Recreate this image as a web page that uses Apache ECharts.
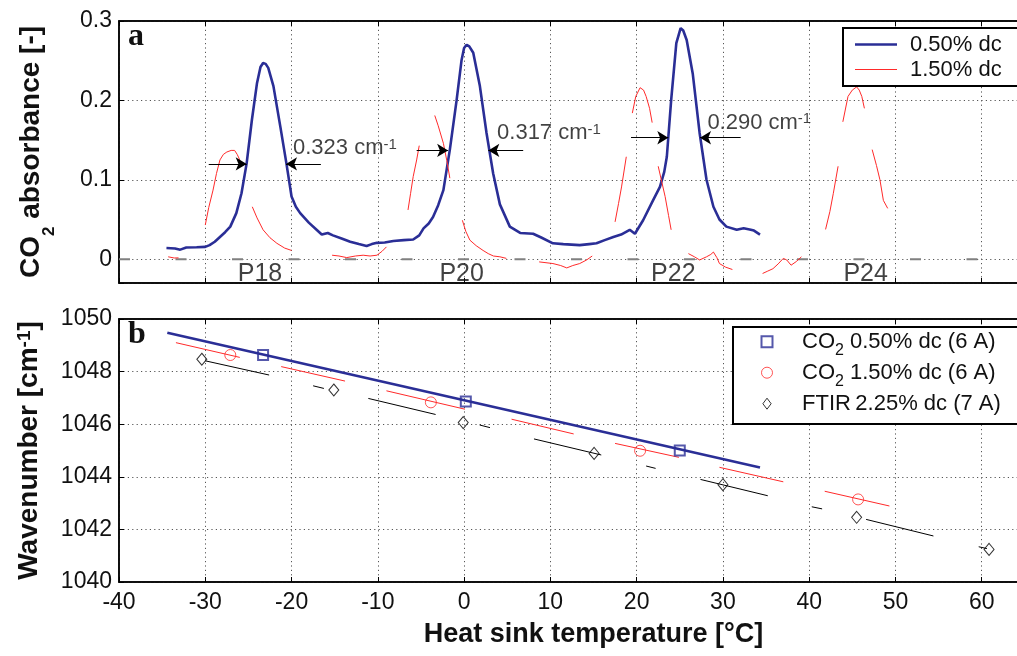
<!DOCTYPE html>
<html><head><meta charset="utf-8">
<script src="https://cdn.jsdelivr.net/npm/echarts@6/dist/echarts.min.js"></script>
<style>html,body{margin:0;padding:0;background:#fff}#c{width:1017px;height:656px}</style>
</head><body><div id="c"></div>
<script>
// ---------- data ----------
const xTickRange = [-40, 70];
const absorbRange = [-0.03, 0.3];
const waveRange = [1040, 1050];

// panel a: 0.50% dc absorbance trace [T, absorbance]
const blueCurveA = [[-34.5,0.014],[-33.5,0.0135],[-32.9,0.012],[-32.2,0.0148],[-31,0.015],[-30,0.0155],[-29.5,0.0177],[-28.9,0.022],[-28.3,0.028],[-27.7,0.034],[-27.1,0.041],[-26.4,0.058],[-25.8,0.083],[-25.2,0.121],[-24.6,0.175],[-24.0,0.222],[-23.6,0.242],[-23.3,0.247],[-23.0,0.246],[-22.7,0.241],[-22.1,0.218],[-21.3,0.167],[-20.6,0.121],[-20.0,0.079],[-19.5,0.066],[-19.0,0.058],[-18.0,0.046],[-17.1,0.037],[-16.5,0.031],[-15.8,0.033],[-15.2,0.030],[-14.2,0.026],[-13.2,0.022],[-12.2,0.019],[-11.3,0.0165],[-10.7,0.019],[-10.1,0.0206],[-9.2,0.021],[-8.2,0.023],[-7.0,0.024],[-5.9,0.0248],[-5.2,0.030],[-4.7,0.0388],[-4.1,0.045],[-3.6,0.053],[-3.0,0.068],[-2.4,0.087],[-1.65,0.138],[-0.87,0.20],[-0.29,0.251],[0.0,0.266],[0.29,0.270],[0.6,0.268],[1.06,0.260],[1.83,0.218],[2.6,0.159],[3.37,0.108],[4.15,0.069],[5.3,0.041],[6.5,0.033],[8.0,0.032],[9.0,0.027],[10.3,0.020],[11.5,0.019],[13.4,0.0177],[14.5,0.019],[15.35,0.020],[16.3,0.024],[17.3,0.028],[18.2,0.031],[19.2,0.037],[19.8,0.032],[20.75,0.049],[21.9,0.074],[22.7,0.091],[23.2,0.110],[23.5,0.129],[24.0,0.20],[24.6,0.272],[25.1,0.291],[25.4,0.288],[25.8,0.276],[26.5,0.234],[27.3,0.159],[28.1,0.10],[28.9,0.066],[29.6,0.050],[30.4,0.041],[31.6,0.037],[32.4,0.039],[33.1,0.0375],[33.6,0.036],[34.3,0.031]];

// panel a: 1.50% dc trace pieces [T, absorbance]
const redSegmentsA = [
 [[-34.3,0.003],[-33.6,0.0015],[-33.1,0.0017]],
 [[-30.0,0.043],[-29.6,0.065],[-29.1,0.087],[-28.7,0.108],[-28.3,0.125],[-27.9,0.132],[-27.5,0.135],[-27.0,0.137],[-26.6,0.137],[-26.3,0.132],[-26.0,0.125]],
 [[-24.55,0.066],[-24.0,0.052],[-23.3,0.037],[-22.5,0.027],[-21.7,0.020],[-20.8,0.014],[-20.0,0.011]],
 [[-15.3,0.005],[-14.5,0.004],[-13.6,0.002],[-12.6,0.004],[-11.7,0.005],[-10.9,0.004],[-10.1,0.005],[-9.5,0.010],[-9.0,0.0155]],
 [[-6.5,0.062],[-6.2,0.083],[-5.9,0.104],[-5.5,0.125],[-5.2,0.143]],
 [[-3.4,0.181],[-3.0,0.168],[-2.4,0.146],[-2.0,0.124],[-1.65,0.102]],
 [[-0.2,0.049],[0.2,0.035],[0.67,0.024],[1.4,0.017],[2.2,0.011],[2.8,0.007],[3.4,0.004],[4.15,0.003],[4.9,0.001]],
 [[8.7,-0.0034],[10.3,-0.0055],[11.2,-0.008],[11.9,-0.011],[12.6,-0.008],[13.4,-0.0055],[14.2,-0.001],[14.85,0.004]],
 [[17.5,0.047],[17.9,0.07],[18.25,0.091],[18.8,0.129]],
 [[19.5,0.184],[19.9,0.205],[20.4,0.216],[20.8,0.213],[21.1,0.205],[21.5,0.19],[21.8,0.172]],
 [[22.5,0.117],[22.9,0.098],[23.3,0.079],[23.7,0.055],[24.0,0.037]],
 [[26.0,0.007],[26.7,0.003],[27.3,-0.001],[28.1,0.003],[28.6,0.006],[28.9,0.009],[29.3,0.002],[29.6,-0.0055],[30.3,-0.01],[31.1,-0.013]],
 [[34.6,-0.018],[35.2,-0.015],[35.8,-0.012],[36.4,-0.006],[37.0,0.001],[37.4,-0.001],[37.9,-0.0076],[38.5,-0.003],[39.1,0.003]],
 [[41.9,0.0375],[42.4,0.06],[42.8,0.083],[43.35,0.117]],
 [[43.9,0.173],[44.5,0.205],[45.0,0.213],[45.5,0.217],[45.8,0.213],[46.1,0.205],[46.4,0.19]],
 [[47.3,0.138],[47.8,0.118],[48.2,0.10],[48.6,0.074],[49.1,0.064]]
];

const zeroLineA = [[-40,0],[70,0]];

// FWHM arrows [from, to(arrow head)]
const fwhmArrows = [
 [[-29.6,0.12],[-25.2,0.12]], [[-16.6,0.12],[-20.64,0.12]],
 [[-5.5,0.137],[-1.85,0.137]], [[6.85,0.137],[2.81,0.137]],
 [[19.35,0.153],[23.67,0.153]], [[32.06,0.153],[27.35,0.153]]
];
const fwhmLabels = [['0.323',-19.83,0.140],['0.317',3.82,0.159],['0.290',28.2,0.172]];
const peakLabels = [['P18',-23.66,-0.0185],['P20',-0.28,-0.0185],['P22',24.25,-0.0185],['P24',46.55,-0.0185]];

// panel b [T, wavenumber]
const blueFitB = [[-34.4,1049.48],[34.3,1044.35]];
const blueSquaresB = [[-23.3,1048.63],[0.2,1046.86],[25.0,1045.0]];
const redCirclesB = [[-27.1,1048.63],[-3.85,1046.83],[20.4,1044.99],[45.67,1043.14]];
const redSegmentsB = [
 [[-33.4,1049.1],[-26.0,1048.54]], [[-21.2,1048.19],[-13.8,1047.64]], [[-9.0,1047.27],[0.1,1046.57]],
 [[5.5,1046.19],[12.7,1045.63]], [[17.5,1045.27],[24.9,1044.74]], [[29.6,1044.36],[37.0,1043.81]],
 [[41.8,1043.45],[49.3,1042.89]]
];
const ftirDiamondsB = [[-30.4,1048.47],[-15.1,1047.30],[-0.1,1046.06],[15.07,1044.89],[30,1043.70],[45.5,1042.46],[60.85,1041.24]];
const ftirSegmentsB = [
 [[-30.0,1048.41],[-22.6,1047.87]], [[-17.5,1047.46],[-16.25,1047.36]], [[-11.1,1046.98],[-3.3,1046.37]],
 [[1.8,1045.97],[3.0,1045.87]], [[8.1,1045.44],[15.9,1044.83]], [[21.1,1044.41],[22.2,1044.32]],
 [[27.4,1043.90],[35.2,1043.28]], [[40.3,1042.86],[41.5,1042.78]], [[46.6,1042.38],[54.4,1041.75]],
 [[59.65,1041.34],[60.6,1041.27]]
];

const seriesNamesA = ['0.50% dc','1.50% dc'];
const seriesNamesB = ['CO2 0.50% dc (6 A)','CO2 1.50% dc (6 A)','FTIR 2.25% dc (7 A)'];

// ---------- styling ----------
const FONT = '"Liberation Sans", Arial, Helvetica, sans-serif';
const BLUE = '#2a2e96';
const RED = '#ff2a2a';
const TXT = '#111';

function joinSegments(segs){
  const out = [];
  segs.forEach((s,i)=>{ if(i) out.push(['-','-']); s.forEach(p=>out.push(p)); });
  return out;
}

const chart = echarts.init(document.getElementById('c'), null, {renderer:'canvas'});

const baseX = (grid, labels) => ({
  type:'value', gridIndex:grid, min:xTickRange[0], max:xTickRange[1], interval:10,
  axisLine:{show:true, onZero:false, lineStyle:{color:'#000', width:1.5}},
  axisTick:{show:true, inside:true, length:5, lineStyle:{color:'#000'}},
  axisLabel:{show:labels, fontFamily:FONT, fontSize:23, color:TXT, margin:9, formatter:v => String(v)},
  splitLine:{show:true, lineStyle:{color:'#555', width:1, type:[1.2,3.2]}}
});
const topX = (grid) => ({
  type:'value', gridIndex:grid, position:'top', min:xTickRange[0], max:xTickRange[1], interval:10,
  axisLine:{show:true, onZero:false, lineStyle:{color:'#000', width:1.5}},
  axisTick:{show:true, inside:true, length:5, lineStyle:{color:'#000'}},
  axisLabel:{show:false}, splitLine:{show:false}
});

const option = {
  animation:false,
  backgroundColor:'#fff',
  grid:[
    {left:119, top:21, width:949, height:262, show:true, borderColor:'#000', borderWidth:1.5,
     outerBoundsMode:'none', containLabel:false},
    {left:119, top:319, width:949, height:263, show:true, borderColor:'#000', borderWidth:1.5,
     outerBoundsMode:'none', containLabel:false}
  ],
  xAxis:[
    baseX(0,false), topX(0),
    Object.assign(baseX(1,true), {
      name:'Heat sink temperature [°C]', nameLocation:'middle', nameGap:39,
      nameTextStyle:{fontFamily:FONT, fontSize:27, fontWeight:'bold', color:TXT}
    }),
    topX(1)
  ],
  yAxis:[
    {type:'value', gridIndex:0, min:absorbRange[0], max:absorbRange[1], splitNumber:3,
     axisLine:{show:true, onZero:false, lineStyle:{color:'#000', width:1.5}},
     axisTick:{show:true, inside:true, length:5, lineStyle:{color:'#000'}},
     axisLabel:{fontFamily:FONT, fontSize:23, color:TXT, margin:7,
       formatter:v => v < -0.001 ? '' : String(Math.round(v*10)/10)},
     splitLine:{show:true, lineStyle:{color:'#555', width:1, type:[1.2,3.2]}},
     name:'{m|CO}{s|2}{m| absorbance [-]}', nameLocation:'middle', nameGap:74,
     nameTextStyle:{fontFamily:FONT, fontSize:28, fontWeight:'bold', color:TXT,
       rich:{
         m:{fontFamily:FONT, fontSize:28, fontWeight:'bold', color:TXT, lineHeight:28, verticalAlign:'top'},
         s:{fontFamily:FONT, fontSize:17, fontWeight:'bold', color:TXT, lineHeight:17, padding:[24,0,0,0], verticalAlign:'top'}
       }}
    },
    {type:'value', gridIndex:1, min:waveRange[0], max:waveRange[1], interval:2,
     axisLine:{show:true, onZero:false, lineStyle:{color:'#000', width:1.5}},
     axisTick:{show:true, inside:true, length:5, lineStyle:{color:'#000'}},
     axisLabel:{fontFamily:FONT, fontSize:23, color:TXT, margin:7, formatter:v => String(v)},
     splitLine:{show:true, lineStyle:{color:'#555', width:1, type:[1.2,3.2]}},
     name:'{m|Wavenumber [cm}{p|-1}{m|]}', nameLocation:'middle', nameGap:76,
     nameTextStyle:{fontFamily:FONT, fontSize:28, fontWeight:'bold', color:TXT,
       rich:{
         m:{fontFamily:FONT, fontSize:28, fontWeight:'bold', color:TXT, lineHeight:28, verticalAlign:'bottom'},
         p:{fontFamily:FONT, fontSize:19, fontWeight:'bold', color:TXT, lineHeight:19, verticalAlign:'top'}
       }}
    }
  ],
  legend:[
    {data:[
       {name:seriesNamesA[0], icon:'path://M0,0 H42 V2.6 H0 Z'},
       {name:seriesNamesA[1], icon:'path://M0,0 H42 V1.1 H0 Z'}],
     orient:'vertical', left:843, top:28, padding:[4,80,4,12],
     itemWidth:42, itemHeight:14, itemGap:0, borderColor:'#000', borderWidth:2,
     backgroundColor:'#fff', selectedMode:false, symbolKeepAspect:true,
     textStyle:{fontFamily:FONT, fontSize:22, color:TXT, lineHeight:25, padding:[0,0,0,8]}},
    {data:[
       {name:seriesNamesB[0], icon:'path://M0,0 H10 V10 H0 Z', itemStyle:{borderWidth:2}},
       {name:seriesNamesB[1], icon:'circle', itemStyle:{borderWidth:1}},
       {name:seriesNamesB[2], icon:'path://M4.5,0 L9,6 L4.5,12 L0,6 Z', itemStyle:{borderWidth:1}}],
     orient:'vertical', left:733, top:327, padding:[3.7,80,3.3,27.5],
     itemWidth:60, itemHeight:11, itemGap:3, borderColor:'#000', borderWidth:2,
     backgroundColor:'#fff', selectedMode:false, symbolKeepAspect:true,
     formatter: n => n.startsWith('CO2') ? '{m|CO}{s|2}{m|' + n.slice(3) + '}' : '{m|FTIR}{s| }{m|' + n.slice(5) + '}',
     textStyle:{fontFamily:FONT, fontSize:22, color:TXT,
       rich:{
         m:{fontFamily:FONT, fontSize:22, color:TXT, lineHeight:22, verticalAlign:'top'},
         s:{fontFamily:FONT, fontSize:16, color:TXT, lineHeight:16, padding:[12,0,0,0], verticalAlign:'top'}
       }}}
  ],
  graphic:[
    {type:'text', left:128, top:21, style:{text:'a', font:'bold 32px "Liberation Serif", "Times New Roman", serif', fill:'#111'}},
    {type:'text', left:128, top:319, style:{text:'b', font:'bold 32px "Liberation Serif", "Times New Roman", serif', fill:'#111'}}
  ],
  series:[
    {type:'line', xAxisIndex:0, yAxisIndex:0, data:zeroLineA, symbol:'none', silent:true,
     lineStyle:{color:'#808080', width:2, type:[11,45.5]}, z:1},
    {name:seriesNamesA[1], type:'line', xAxisIndex:0, yAxisIndex:0, data:joinSegments(redSegmentsA),
     symbol:'none', connectNulls:false, lineStyle:{color:RED, width:1}, itemStyle:{color:RED}, z:3},
    {name:seriesNamesA[0], type:'line', xAxisIndex:0, yAxisIndex:0, data:blueCurveA,
     symbol:'none', lineStyle:{color:BLUE, width:2.6}, itemStyle:{color:BLUE}, z:2,
     markLine:{silent:true, symbol:['none','arrow'], symbolSize:[10,11],
       label:{show:false}, lineStyle:{color:'#000', width:1, type:'solid'},
       emphasis:{disabled:true},
       data:fwhmArrows.map(a => [{coord:a[0]}, {coord:a[1]}])}},
    {type:'scatter', xAxisIndex:0, yAxisIndex:0, symbolSize:0, silent:true,
     data:fwhmLabels.map(l => ({name:l[0], value:[l[1], l[2]]})),
     label:{show:true, position:'right', distance:0,
       formatter:p => '{m|' + p.name + ' cm}{s|-1}',
       rich:{
         m:{fontFamily:FONT, fontSize:22, color:TXT, lineHeight:22, padding:[7,0,0,0], verticalAlign:'bottom'},
         s:{fontFamily:FONT, fontSize:15, color:TXT, lineHeight:15, verticalAlign:'top'}
       }}},
    {type:'scatter', xAxisIndex:0, yAxisIndex:0, symbolSize:0, silent:true,
     data:peakLabels.map(l => ({name:l[0], value:[l[1], l[2]]})),
     label:{show:true, position:'inside', formatter:p => p.name,
       fontFamily:FONT, fontSize:25, color:TXT}},

    {type:'line', xAxisIndex:2, yAxisIndex:1, data:blueFitB, symbol:'none', silent:true,
     lineStyle:{color:BLUE, width:2.6}, z:2},
    {type:'line', xAxisIndex:2, yAxisIndex:1, data:joinSegments(redSegmentsB), symbol:'none', silent:true,
     connectNulls:false, lineStyle:{color:RED, width:1}, z:2},
    {type:'line', xAxisIndex:2, yAxisIndex:1, data:joinSegments(ftirSegmentsB), symbol:'none', silent:true,
     connectNulls:false, lineStyle:{color:'#000', width:1}, z:2},
    {name:seriesNamesB[0], type:'scatter', xAxisIndex:2, yAxisIndex:1, data:blueSquaresB,
     symbol:'rect', symbolSize:10, itemStyle:{color:'rgba(0,0,0,0)', borderColor:BLUE, borderWidth:2}, z:4},
    {name:seriesNamesB[1], type:'scatter', xAxisIndex:2, yAxisIndex:1, data:redCirclesB,
     symbol:'circle', symbolSize:11, itemStyle:{color:'rgba(0,0,0,0)', borderColor:RED, borderWidth:1}, z:4},
    {name:seriesNamesB[2], type:'scatter', xAxisIndex:2, yAxisIndex:1, data:ftirDiamondsB,
     symbol:'diamond', symbolSize:[10,12], itemStyle:{color:'rgba(0,0,0,0)', borderColor:'#000', borderWidth:1}, z:4}
  ]
};
chart.setOption(option);
</script></body></html>
